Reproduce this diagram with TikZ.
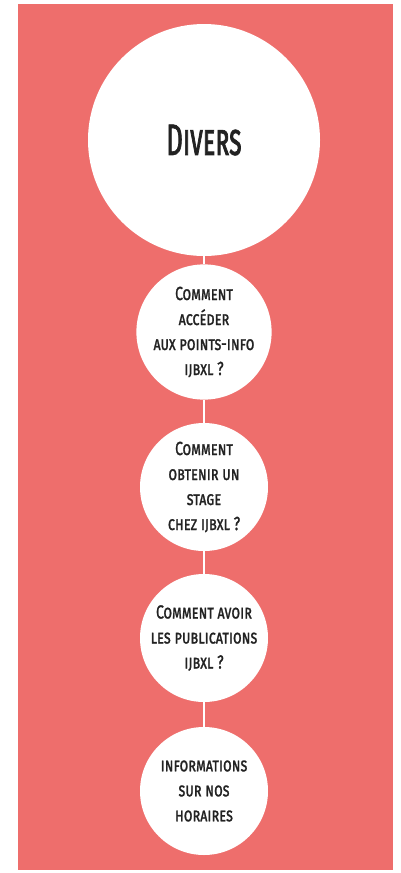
\documentclass[tikz,border=0pt]{standalone}
\usepackage{fontspec}
\setmainfont{Fira Sans}
\newfontfamily\capsfont{Fira Sans}[Letters=SmallCaps,FakeStretch=0.74,FakeBold=1.2]
\newfontfamily\titlefont{Fira Sans}[Letters=SmallCaps,FakeStretch=0.58,FakeBold=1.6]
\usetikzlibrary{positioning}

\definecolor{coral}{HTML}{EE6E6C}
\definecolor{ink}{HTML}{222222}

\tikzset{
  topic/.style={circle,fill=white,inner sep=0pt,minimum size=232pt,
    text=ink,font=\titlefont\fontsize{44}{46}\selectfont},
  question/.style={circle,fill=white,inner sep=0pt,minimum size=128pt,
    text=ink,align=center,font=\capsfont\fontsize{19}{25}\selectfont},
  link/.style={draw=white,line width=2pt}
}

\begin{document}
\begin{tikzpicture}[x=1pt,y=-1pt,on grid]
  \useasboundingbox (0,0) rectangle (401,873);
  \fill[coral] (18,4) rectangle (393,870);

  \node[topic] (divers) at (204,140) {Divers};
  \node[question] (q_1) [below=192pt of divers] {Comment\\accéder\\aux points-info\\ijbxl ?};
  \node[question] (q_2) [below=155pt of q_1] {Comment\\obtenir un\\stage\\chez ijbxl ?};
  \node[question] (q_3) [below=151pt of q_2] {Comment avoir\\les publications\\ijbxl ?};
  \node[question] (q_4) [below=153pt of q_3] {informations\\sur nos\\horaires};

  \path[link]
    (divers) edge (q_1)
    (q_1) edge (q_2)
    (q_2) edge (q_3)
    (q_3) edge (q_4);
\end{tikzpicture}
\end{document}
